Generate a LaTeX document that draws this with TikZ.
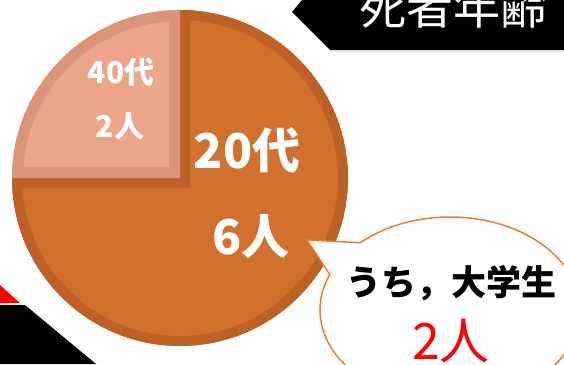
\documentclass[tikz,border=0pt]{standalone}
\usepackage{fontspec}
\usepackage{tikz}
\usetikzlibrary{calc,shapes.callouts}
\newfontfamily\jpfont{Noto Sans CJK JP}
\definecolor{orangefill}{RGB}{210,112,45}
\definecolor{orangeline}{RGB}{189,97,39}
\definecolor{pinkfill}{RGB}{237,165,138}
\definecolor{pinkline}{RGB}{217,148,122}
\definecolor{bubbleline}{RGB}{237,125,49}

\begin{document}
\begin{tikzpicture}[x=1pt, y=-1pt,
    piebig/.style={text=white, font=\jpfont\bfseries\fontsize{48}{48}\selectfont},
    piesmall/.style={text=white, font=\jpfont\bfseries\fontsize{30}{30}\selectfont}]
    \useasboundingbox (0,0) rectangle (564,364);
    \coordinate (pc) at (180,178);

    % 20s slice
    \begin{scope}
      \clip (pc) -- ++(270:168) arc (270:540:168) -- cycle;
      \draw[fill=orangefill, draw=orangeline, line width=20pt] (pc) -- ++(270:168) arc (270:540:168) -- cycle;
    \end{scope}
    % 40s slice
    \begin{scope}
      \clip (pc) -- ++(180:168) arc (180:270:168) -- cycle;
      \draw[fill=pinkfill, draw=pinkline, line width=22pt] (pc) -- ++(180:168) arc (180:270:168) -- cycle;
    \end{scope}

    \node[piesmall] (forty) at (121,72) {40代};
    \node[piesmall] (fortynum) at (120,126) {2人};
    \node[piebig] (twenty) at (247,150) {20代};
    \node[piebig] (twentynum) at (251,237) {6人};

    % title banner
    \fill[black] (302,0) -- (292,12) -- (330,50) -- (564,50) -- (564,0) -- cycle;
    \draw[gray!25, line width=1.5pt] (331,51) -- (564,51);
    \node[text=white, anchor=base, font=\jpfont\fontsize{47}{47}\selectfont] (title) at (453,24) {死者年齢};

    % lower left banner
    \fill[red] (0,285) -- (20,303) -- (0,303) -- cycle;
    \draw[gray!25, line width=1pt] (0,304) -- (22,304);
    \fill[black] (0,305) -- (25,305) -- (96,364) -- (0,364) -- cycle;

    % speech bubble
    \node[ellipse callout, draw=bubbleline, fill=white, line width=1.5pt,
          minimum width=260pt, minimum height=186pt,
          callout absolute pointer={(307,240)}, callout pointer arc=24] (bubble) at (450,310) {};
    \node[font=\jpfont\bfseries\fontsize{35}{35}\selectfont] (uchi) at (451,283) {うち，大学生};
    \node[text=red, font=\jpfont\fontsize{50}{50}\selectfont] (count) at (451,341) {2人};
\end{tikzpicture}
\end{document}
